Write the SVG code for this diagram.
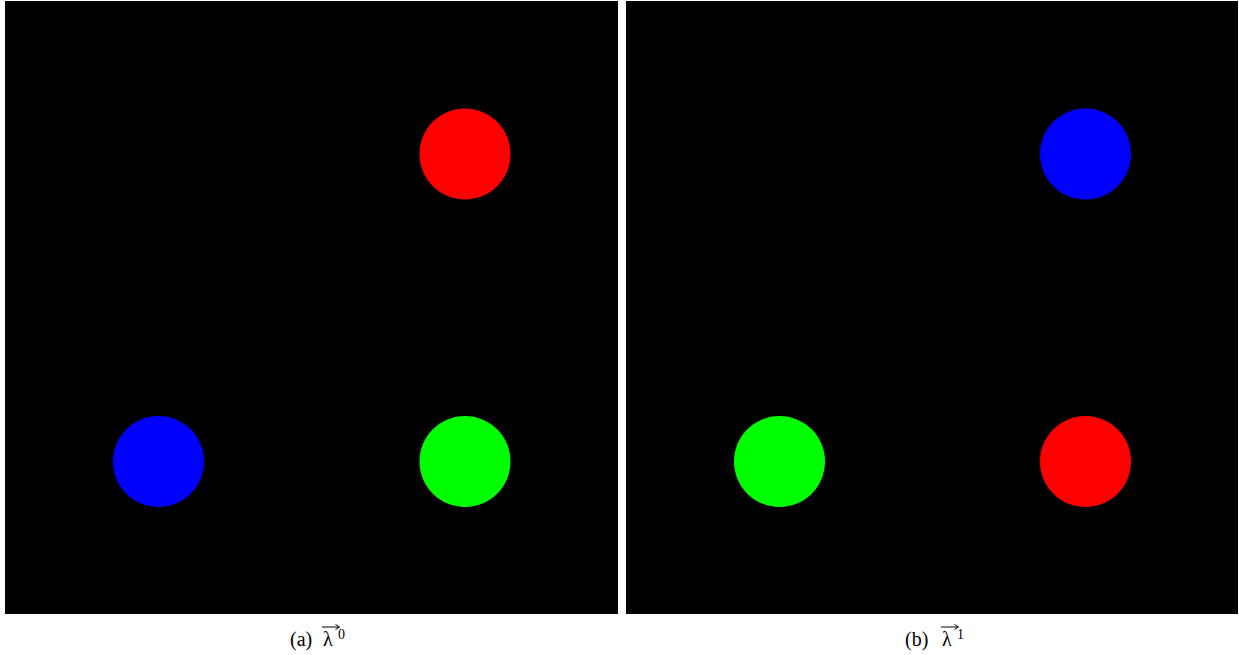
<svg xmlns="http://www.w3.org/2000/svg" width="1239" height="655" viewBox="0 0 1239 655">
<style>
.cap{font-family:"Liberation Serif","DejaVu Serif",serif;font-size:20px;fill:#000}
.sup{font-size:14px}
.arr{stroke:#000;stroke-width:1;fill:none}
</style>
<rect width="1239" height="655" fill="#fff"/>
<g id="panel-a">
<rect x="5" y="1" width="613" height="613" fill="#000"/>
<circle cx="465" cy="154" r="45.5" fill="#ff0000"/>
<circle cx="158.5" cy="461.5" r="45.5" fill="#0000ff"/>
<circle cx="465" cy="461.5" r="45.5" fill="#00ff00"/>
<text class="cap" x="290" y="646">(a)</text>
<text class="cap" x="323" y="646">λ</text>
<text class="cap sup" x="338" y="639">0</text>
<path class="arr" d="M322 627H339M335.5 624.5L339.5 627L335.5 629.5"/>
</g>
<g id="panel-b">
<rect x="626" y="1" width="612" height="613" fill="#000"/>
<circle cx="1085.5" cy="154" r="45.5" fill="#0000ff"/>
<circle cx="779.5" cy="461.5" r="45.5" fill="#00ff00"/>
<circle cx="1085.5" cy="461.5" r="45.5" fill="#ff0000"/>
<text class="cap" x="905" y="646">(b)</text>
<text class="cap" x="942" y="646">λ</text>
<text class="cap sup" x="957" y="639">1</text>
<path class="arr" d="M941 627H958M954.5 624.5L958.5 627L954.5 629.5"/>
</g>
<g id="connectors"/>
</svg>
